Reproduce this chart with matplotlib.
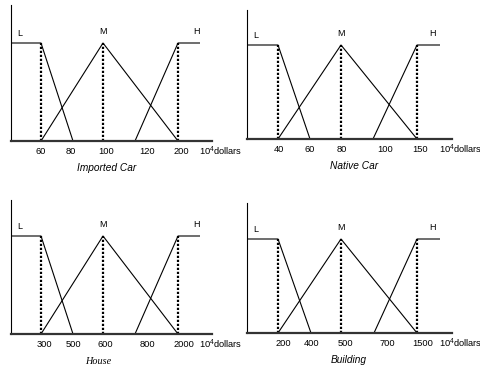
import matplotlib
matplotlib.use("Agg")
import matplotlib.pyplot as plt

plt.rcParams['font.family'] = ['Liberation Sans', 'DejaVu Sans']
plt.rcParams['mathtext.fontset'] = 'custom'
plt.rcParams['mathtext.rm'] = 'Liberation Sans'
plt.rcParams['mathtext.it'] = 'Liberation Sans:italic'

# ---- data ----
titles = ["Imported Car", "Native Car", "House", "Building"]
tick_imported = ["60", "80", "100", "120", "200"]
tick_native = ["40", "60", "80", "100", "150"]
tick_house = ["300", "500", "600", "800", "2000"]
tick_building = ["200", "400", "500", "700", "1500"]
set_names = ["L", "M", "H"]
# membership functions expressed as (tick index, membership) ; index -1 = axis start, 5 = right end
low_idx = [-1, 0, 1]
low_mu = [1, 1, 0]
mid_idx = [0, 2, 4]
mid_mu = [0, 1, 0]
high_idx = [3, 4, 5]
high_mu = [0, 1, 1]
dotted_idx = [0, 2, 4]
unit_label = r"10$^{\mathregular{4}}$dollars"

# ---- layout (pixels) ----
W, H = 481, 367
# left px, axis-end px, baseline px, flat px, top px
frames = [(11, 212, 141, 43, 5),
          (247, 452, 139, 45, 10),
          (11, 212, 334, 236, 200),
          (247, 452, 333, 239, 203)]
# breakpoint positions (relative px) for ticks 0..4 and right end
bpos = [[30, 62, 92, 124, 167, 189],
        [31, 63, 94, 126, 170, 193],
        [30, 62, 92, 124, 167, 189],
        [31, 64, 94, 127, 170, 193]]
lpos = [[30, 60, 95, 136, 170],
        [32, 63, 95, 138, 173],
        [33, 62, 94, 136, 173],
        [36, 65, 98, 140, 176]]
cap_x = [96, 107, 87, 102]
cap_font = [dict(family=['Liberation Sans'], style='italic'),
            dict(family=['Liberation Sans'], style='italic'),
            dict(family=['Liberation Serif'], style='italic'),
            dict(family=['Liberation Sans'], style='italic')]
ticksets = [tick_imported, tick_native, tick_house, tick_building]

fig = plt.figure(figsize=(W / 100, H / 100), dpi=100)
px2pt = 72 / 100

for k in range(4):
    x0, x1, base, flat, top = frames[k]
    ax = fig.add_axes([x0 / W, (H - base) / H, (x1 - x0) / W, (base - top) / H])
    ymax = (base - top) / (base - flat)
    ax.set_xlim(0, x1 - x0)
    ax.set_ylim(0, ymax)
    pos = bpos[k]

    def px(i):
        return 0 if i < 0 else pos[i]

    for idx, mu in ((low_idx, low_mu), (mid_idx, mid_mu), (high_idx, high_mu)):
        ax.plot([px(i) for i in idx], mu, color='black', lw=0.8, solid_capstyle='butt')
    for i in dotted_idx:
        ax.plot([pos[i], pos[i]], [0, 1], color='black', lw=1.6, ls=(0, (1, 0.8)))

    ax.text(9, 1.1, set_names[0], ha='center', va='center', fontsize=6.5)
    ax.text(pos[2], 1.12, set_names[1], ha='center', va='center', fontsize=6.5)
    ax.text(186, 1.12, set_names[2], ha='center', va='center', fontsize=6.5)

    for s in ('top', 'right'):
        ax.spines[s].set_visible(False)
    ax.spines['bottom'].set_linewidth(1.6)
    ax.spines['bottom'].set_color('#333333')
    ax.spines['left'].set_linewidth(0.8)
    ax.set_yticks([])
    ax.set_xticks(lpos[k], ticksets[k])
    ax.tick_params(axis='x', length=0, pad=4.5, labelsize=6.7)
    ax.patch.set_alpha(0)

    ux = bpos[k][5] - 1
    ax.annotate(unit_label, xy=(ux, 0), xycoords='data',
                xytext=(0, -10.5 * px2pt), textcoords='offset points',
                ha='left', va='center', fontsize=6.7)
    ax.annotate(titles[k], xy=(cap_x[k], 0), xycoords='data',
                xytext=(0, -27 * px2pt), textcoords='offset points',
                ha='center', va='center', fontsize=7.3, **cap_font[k])

fig.savefig("out.png", dpi=100)
